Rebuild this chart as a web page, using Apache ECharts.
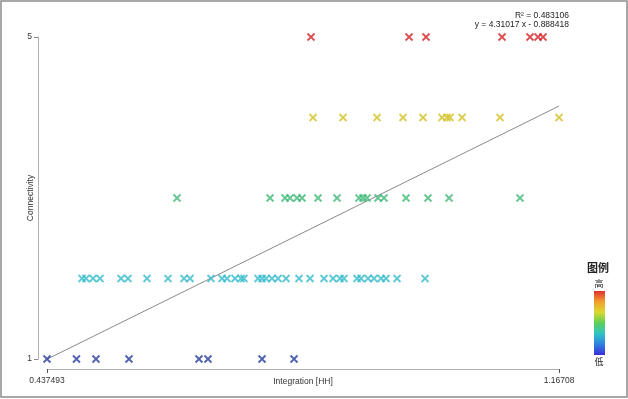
<!DOCTYPE html>
<html>
<head>
<meta charset="utf-8">
<script src="https://cdn.jsdelivr.net/npm/echarts@6/dist/echarts.min.js"></script>
<style>html,body{margin:0;padding:0;background:#fff}#c{width:628px;height:399px}</style>
</head>
<body>
<div id="c"></div>
<script>
// ---- data ----
const xMin = 0.437493;
const xMax = 1.16708;
const xTickLabels = ['0.437493', '1.16708'];
const yTicks = [1, 5];
const connectivityLevels = [1, 2, 3, 4, 5];
const integration1 = [0.4375, 0.4795, 0.5073, 0.5543, 0.6541, 0.6669, 0.7439, 0.7895];
const integration2 = [0.4874, 0.4931, 0.5031, 0.5130, 0.5430, 0.5529, 0.5800, 0.6099, 0.6327, 0.6413,
  0.6712, 0.6869, 0.6940, 0.7054, 0.7140, 0.7182, 0.7382, 0.7439, 0.7496, 0.7581, 0.7667, 0.7781,
  0.7966, 0.8123, 0.8322, 0.8451, 0.8550, 0.8607, 0.8793, 0.8850, 0.8949, 0.9035, 0.9135, 0.9206,
  0.9363, 0.9762];
const integration3 = [0.6228, 0.7553, 0.7767, 0.7838, 0.7938, 0.8009, 0.8237, 0.8508, 0.8821, 0.8878,
  0.8935, 0.9092, 0.9177, 0.9491, 0.9804, 1.0104, 1.1115];
const integration4 = [0.8166, 0.8593, 0.9078, 0.9448, 0.9733, 1.0004, 1.0075, 1.0118, 1.0289, 1.0830, 1.1671];
const integration5 = [0.8137, 0.9534, 0.9776, 1.0859, 1.1258, 1.1372, 1.1443];
const regSlope = 4.31017;
const regIntercept = -0.888418;
const rSquared = '0.483106';
const levelColors = ['#22389a', '#33bbca', '#3fb877', '#d2c024', '#d42228'];
const legendTitle = '图例';
const legendHigh = '高';
const legendLow = '低';
const legendGradient = ['#e0302e', '#f2a02e', '#d9d92e', '#5ccf58', '#2fc4c6', '#2f80e2', '#3a2fd8'];

// ---- chart ----
const rows = [integration1, integration2, integration3, integration4, integration5];
const font = 'Liberation Sans, Arial, sans-serif';
const cjk = 'Noto Sans CJK SC';
const series = rows.map((xs, i) => ({
  type: 'scatter',
  clip: false,
  symbol: 'path://M0,0L10,10M10,0L0,10',
  symbolSize: 7,
  itemStyle: { color: 'rgba(0,0,0,0)', borderColor: levelColors[i], borderWidth: 1.8 },
  data: xs.map(x => [x, connectivityLevels[i]]),
  z: 3
}));
series.push({
  type: 'line',
  clip: false,
  symbol: 'none',
  lineStyle: { color: '#8a8a8a', width: 1 },
  data: [[xMin, regSlope * xMin + regIntercept], [xMax, regSlope * xMax + regIntercept]],
  z: 2
});

const chart = echarts.init(document.getElementById('c'), null, { renderer: 'canvas' });
chart.setOption({
  animation: false,
  backgroundColor: '#fff',
  grid: { left: 47, right: 69, top: 37, bottom: 40, containLabel: false, outerBoundsMode: 'none' },
  xAxis: {
    type: 'value', min: xMin, max: xMax, offset: 10,
    axisLine: { show: true, lineStyle: { color: '#b0b0b0', width: 1 } },
    axisTick: { show: true, length: 4, customValues: [xMin, xMax], lineStyle: { color: '#555' } },
    axisLabel: { customValues: [xMin, xMax], margin: 7, fontSize: 8.5, color: '#333', fontFamily: font,
      formatter: v => (Math.abs(v - xMin) < 1e-9 ? xTickLabels[0] : xTickLabels[1]) },
    splitLine: { show: false },
    name: 'Integration [HH]', nameLocation: 'middle', nameGap: 8, nameMoveOverlap: false,
    nameTextStyle: { fontSize: 8.5, color: '#333', fontFamily: font, verticalAlign: 'top', padding: [0, 0, 0, 0] }
  },
  yAxis: {
    type: 'value', min: 1, max: 5, offset: 9,
    axisLine: { show: true, lineStyle: { color: '#b0b0b0', width: 1 } },
    axisTick: { show: true, length: 4, customValues: yTicks, lineStyle: { color: '#888' } },
    axisLabel: { customValues: yTicks, margin: 6, fontSize: 8.5, color: '#333', fontFamily: font },
    splitLine: { show: false },
    name: 'Connectivity', nameLocation: 'middle', nameGap: 3, nameRotate: 90, nameMoveOverlap: false,
    nameTextStyle: { fontSize: 8.5, color: '#333', fontFamily: font }
  },
  graphic: [
    { type: 'rect', shape: { x: 1, y: 1, width: 626, height: 396 }, style: { fill: 'none', stroke: '#8c8c8c', lineWidth: 1.5 }, silent: true },
    { type: 'text', x: 569, y: 16, style: { text: 'R² = ' + rSquared, align: 'right', verticalAlign: 'middle', fontSize: 8.5, fill: '#222', fontFamily: font } },
    { type: 'text', x: 569, y: 25, style: { text: 'y = ' + regSlope + ' x - ' + Math.abs(regIntercept), align: 'right', verticalAlign: 'middle', fontSize: 8.5, fill: '#222', fontFamily: font } },
    { type: 'text', x: 598, y: 268, style: { text: legendTitle, align: 'center', verticalAlign: 'middle', fontSize: 11, fontWeight: 'bold', fill: '#222', fontFamily: cjk } },
    { type: 'text', x: 599, y: 284, style: { text: legendHigh, align: 'center', verticalAlign: 'middle', fontSize: 9, fill: '#222', fontFamily: cjk } },
    { type: 'rect', shape: { x: 594, y: 291, width: 11, height: 64 },
      style: { fill: new echarts.graphic.LinearGradient(0, 0, 0, 1,
        legendGradient.map((c, i) => ({ offset: i / (legendGradient.length - 1), color: c }))) } },
    { type: 'text', x: 599, y: 362, style: { text: legendLow, align: 'center', verticalAlign: 'middle', fontSize: 9, fill: '#222', fontFamily: cjk } }
  ],
  series: series
});
</script>
</body>
</html>
